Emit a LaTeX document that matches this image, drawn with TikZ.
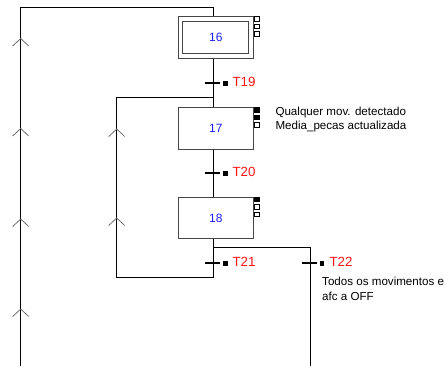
\documentclass[tikz,border=0pt]{standalone}
\usepackage{fontspec}
\setmainfont{Liberation Sans}
\definecolor{boxgray}{RGB}{70,70,70}
\definecolor{arrgray}{RGB}{110,110,110}
\definecolor{tred}{RGB}{255,20,20}
\definecolor{nblue}{RGB}{30,30,255}
\begin{document}
\begin{tikzpicture}[x=1pt,y=-1pt,
  line width=1pt,
  stepbox/.style={draw=boxgray, line width=1pt, minimum width=75pt, minimum height=41.5pt, inner sep=0pt, font=\fontsize{12}{12}\selectfont, text=nblue},
  innerbox/.style={draw=boxgray, line width=1pt, minimum width=66pt, minimum height=31.5pt, inner sep=0pt, font=\fontsize{12}{12}\selectfont, text=nblue},
  sqe/.style={draw=black, line width=0.8pt, fill=white, minimum size=4.5pt, inner sep=0pt},
  sqf/.style={draw=black, line width=0.8pt, fill=black, minimum size=4.5pt, inner sep=0pt},
  tbar/.style={fill=black, minimum width=15pt, minimum height=2.2pt, inner sep=0pt},
  tsq/.style={fill=black, minimum size=4.5pt, inner sep=0pt},
  tlabel/.style={anchor=west, text=tred, font=\fontsize{13.3}{13}\selectfont, inner sep=0pt},
  actxt/.style={anchor=west, align=left, font=\fontsize{11.6}{14.4}\selectfont, inner sep=0pt},
  uparr/.pic={\draw[arrgray, line width=0.8pt] (-8,7.5) -- (0,0) -- (8,7.5);}
]
\useasboundingbox (0,0) rectangle (445,365);
\clip (0,0) rectangle (445,365);
\fill[white] (0,0) rectangle (445,365);

% steps
\node[stepbox] (s16) at (215.8,37.5) {};
\node[innerbox] (s16in) at (215.8,37.5) {16};
\node[stepbox] (s17) at (215.8,128.4) {17};
\node[stepbox] (s18) at (215.8,218.2) {18};

% step squares
\node[sqe] (q16a) at (257,18.8) {};
\node[sqe] (q16b) at (257,26.3) {};
\node[sqe] (q16c) at (257,33.8) {};
\node[sqf] (q17a) at (257,109.8) {};
\node[sqf] (q17b) at (257,117.3) {};
\node[sqe] (q17c) at (257,124.8) {};
\node[sqf] (q18a) at (257,199.3) {};
\node[sqe] (q18b) at (257,206.8) {};
\node[sqe] (q18c) at (257,214.3) {};

% coordinates
\coordinate (lt) at (20.7,7.3);
\coordinate (tt) at (213.3,7.3);
\coordinate (lb) at (20.7,366);
\coordinate (j18) at (213.3,247.7);
\coordinate (r22) at (310,247.7);
\coordinate (rb) at (310,366);
\coordinate (lp1) at (213.3,277.7);
\coordinate (lp2) at (116.7,277.7);
\coordinate (lp3) at (116.7,97.3);
\coordinate (lp4) at (213.3,97.3);

% transitions
\node[tbar] (t19) at (212.5,83.3) {};
\node[tbar] (t20) at (212.5,173.3) {};
\node[tbar] (t21) at (212.5,263.3) {};
\node[tbar] (t22) at (309.5,263.3) {};
\node[tsq] (q19) at (225.5,83.3) {};
\node[tsq] (q20) at (225.5,173.3) {};
\node[tsq] (q21) at (225.5,263.3) {};
\node[tsq] (q22) at (322,263.3) {};
\node[tlabel] (l19) at (232,82.3) {T19};
\node[tlabel] (l20) at (232,172.3) {T20};
\node[tlabel] (l21) at (232,262.3) {T21};
\node[tlabel] (l22) at (329,262.3) {T22};

% actions
\node[actxt] (a17) at (275,119.5) {Qualquer mov. detectado\\Media\_pecas actualizada};
\node[actxt] (a22) at (321.7,289) {Todos os movimentos e\\afc a OFF};

% connectors
\draw (lb) -- (lt) -- (tt) -- (s16.north -| tt);
\draw (s16.south -| tt) -- (s17.north -| tt);
\draw (s17.south -| tt) -- (s18.north -| tt);
\draw (s18.south -| tt) -- (lp1) -- (lp2) -- (lp3) -- (lp4);
\draw (j18) -- (r22) -- (rb);

% direction arrows
\pic at (20.7,38.5) {uparr};
\pic at (20.7,128.5) {uparr};
\pic at (20.7,219) {uparr};
\pic at (20.7,309) {uparr};
\pic at (116.7,129) {uparr};
\pic at (116.7,218) {uparr};
\end{tikzpicture}
\end{document}
